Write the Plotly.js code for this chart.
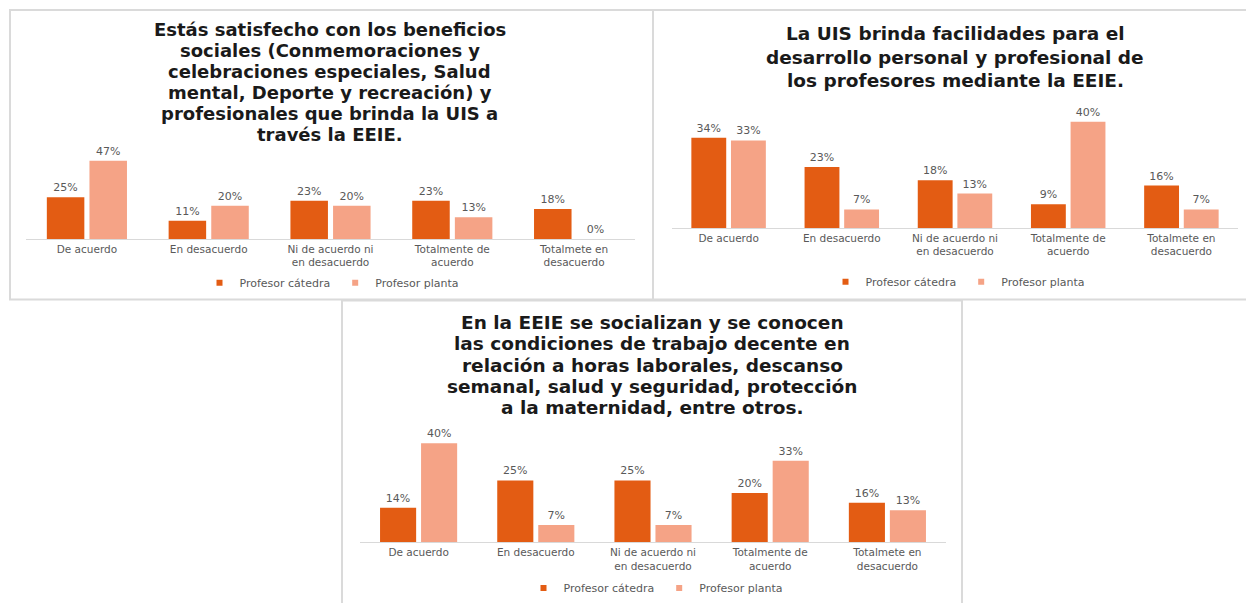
<!DOCTYPE html>
<html>
<head>
<meta charset="utf-8">
<script src="https://cdn.plot.ly/plotly-3.0.1.min.js"></script>
<style>
html,body{margin:0;padding:0;background:#fff;}
#chart{width:1246px;height:603px;}
</style>
</head>
<body>
<div id="chart"></div>
<script>
// ---- Data ----
const categories = ['De acuerdo', 'En desacuerdo', 'Ni de acuerdo ni<br>en desacuerdo', 'Totalmente de<br>acuerdo', 'Totalmete en<br>desacuerdo'];
const seriesNames = ['Profesor cátedra', 'Profesor planta'];

const panel1Catedra = [25, 11, 23, 23, 18];
const panel1Planta  = [47, 20, 20, 13, 0];
const panel2Catedra = [34, 23, 18, 9, 16];
const panel2Planta  = [33, 7, 13, 40, 7];
const panel3Catedra = [14, 25, 25, 20, 16];
const panel3Planta  = [40, 7, 7, 33, 13];

const panel1Title = ['Estás satisfecho con los beneficios', 'sociales (Conmemoraciones y', 'celebraciones especiales, Salud', 'mental, Deporte y recreación) y', 'profesionales que brinda la UIS a', 'través la EEIE.'];
const panel2Title = ['La UIS brinda facilidades para el', 'desarrollo personal y profesional de', 'los profesores mediante la EEIE.'];
const panel3Title = ['En la EEIE se socializan y se conocen', 'las condiciones de trabajo decente en', 'relación a horas laborales, descanso', 'semanal, salud y seguridad, protección', 'a la maternidad, entre otros.'];

// ---- Styling / geometry (pixels) ----
const W = 1246, H = 603;
const colors = ['#E35C13', '#F5A386'];
const textColor = '#595959';
const px = v => v / W;
const py = v => 1 - v / H;

const panels = [
  {catedra: panel1Catedra, planta: panel1Planta, title: panel1Title, titleSize: 18, titleX: 330, titleY0: 30, titleStep: 21.2,
   x0: 26, x1: 635, base: 241, top: 157, ymax: 50, legX: 332, legY: 285, box: [10, 653, 10, 302]},
  {catedra: panel2Catedra, planta: panel2Planta, title: panel2Title, titleSize: 18.5, titleX: 955, titleY0: 34, titleStep: 23.5,
   x0: 672, x1: 1238, base: 230, top: 109.4, ymax: 45, legX: 958, legY: 284, box: [653, 1250, 10, 302]},
  {catedra: panel3Catedra, planta: panel3Planta, title: panel3Title, titleSize: 18.5, titleX: 652, titleY0: 325, titleStep: 21.6,
   x0: 360, x1: 946, base: 547, top: 434.5, ymax: 45, legX: 656, legY: 593, box: [342, 962, 303, 610]}
];

const data = [];
const layout = {
  width: W, height: H,
  margin: {l: 0, r: 0, t: 0, b: 0},
  paper_bgcolor: '#ffffff',
  plot_bgcolor: 'rgba(0,0,0,0)',
  barmode: 'group',
  bargap: 0.3,
  bargroupgap: 0.12,
  font: {family: 'DejaVu Sans, sans-serif', color: textColor},
  annotations: [],
  shapes: []
};

panels.forEach((p, i) => {
  const n = i === 0 ? '' : String(i + 1);
  const xa = 'x' + n, ya = 'y' + n;
  const legendId = 'legend' + n;
  [p.catedra, p.planta].forEach((vals, s) => {
    data.push({
      type: 'bar', x: categories, y: vals, name: seriesNames[s],
      xaxis: xa, yaxis: ya, showlegend: false,
      marker: {color: colors[s], line: {width: 0}},
      texttemplate: '%{y}%', textposition: 'outside', cliponaxis: false,
      constraintext: 'none',
      textfont: {family: 'DejaVu Sans, sans-serif', size: 11, color: textColor},
      hoverinfo: 'skip'
    });
  });
  // legend entries
  seriesNames.forEach((nm, s) => {
    data.push({
      type: 'scatter', mode: 'markers', x: [null], y: [null], name: nm,
      xaxis: xa, yaxis: ya, legend: legendId, showlegend: true,
      marker: {symbol: 'square', size: 6, color: colors[s]}
    });
  });
  layout['xaxis' + n] = {
    domain: [px(p.x0), px(p.x1)], anchor: ya,
    type: 'category', categoryorder: 'array', categoryarray: categories,
    showline: true, linecolor: '#D9D9D9', linewidth: 1,
    ticks: '', showgrid: false, zeroline: false, fixedrange: true,
    tickfont: {family: 'DejaVu Sans, sans-serif', size: 10.5, color: textColor}
  };
  layout['yaxis' + n] = {
    domain: [py(p.base), py(p.top)], anchor: xa,
    range: [0, p.ymax], visible: false, fixedrange: true, showgrid: false, zeroline: false
  };
  layout[legendId] = {
    orientation: 'h', x: px(p.legX), y: py(p.legY), xanchor: 'center', yanchor: 'middle',
    bgcolor: 'rgba(0,0,0,0)', font: {family: 'DejaVu Sans, sans-serif', size: 11, color: textColor},
    itemclick: false, itemdoubleclick: false
  };
  p.title.forEach((line, k) => {
    layout.annotations.push({
      xref: 'paper', yref: 'paper', x: px(p.titleX), y: py(p.titleY0 + k * p.titleStep),
      xanchor: 'center', yanchor: 'middle', showarrow: false, text: line,
      font: {family: 'DejaVu Sans, sans-serif', size: p.titleSize, weight: 'bold', color: '#1a1a1a'}
    });
  });
  layout.shapes.push({
    type: 'rect', xref: 'paper', yref: 'paper', layer: 'below',
    x0: px(p.box[0]), x1: px(p.box[1]), y0: py(p.box[3]), y1: py(p.box[2]),
    line: {color: '#DADADA', width: 2}, fillcolor: 'rgba(0,0,0,0)'
  });
});

Plotly.newPlot('chart', data, layout, {displayModeBar: false, staticPlot: true});
</script>
</body>
</html>
